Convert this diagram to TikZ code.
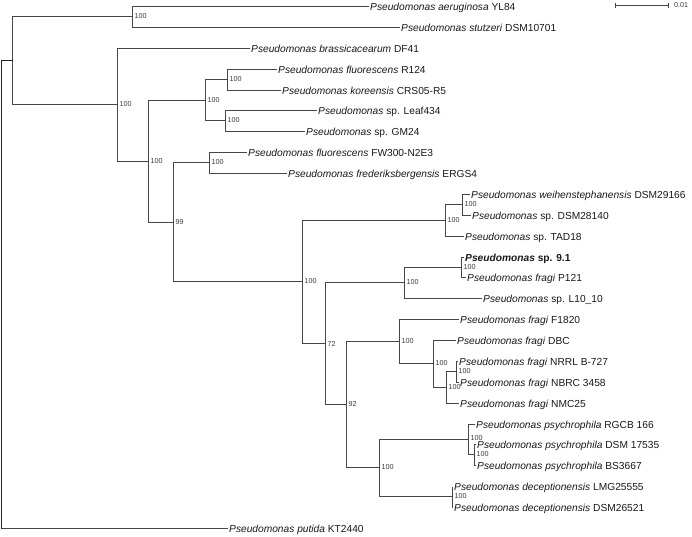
\documentclass[tikz,border=0pt]{standalone}
\usepackage{fontspec}
\setmainfont{Liberation Sans}
\definecolor{edgec}{RGB}{70,70,70}
\definecolor{rootc}{RGB}{35,35,35}
\definecolor{txtc}{RGB}{25,25,25}
\definecolor{bootc}{RGB}{60,60,60}
\begin{document}
\begin{tikzpicture}[x=0.75pt,y=-0.75pt,
  treeline/.style={draw=edgec,line width=0.75pt},
  rootline/.style={draw=rootc,line width=1pt},
  leaf/.style={anchor=west,inner xsep=1.1pt,inner ysep=0pt,text height=0.6em,text depth=0pt,
    font=\fontsize{7.65}{9}\selectfont,text=txtc},
  boot/.style={anchor=west,inner sep=1.3pt,font=\fontsize{5.4}{6}\selectfont,text=bootc},
  sclabel/.style={anchor=west,inner sep=1.5pt,font=\fontsize{5.4}{6}\selectfont,text=bootc}]
\useasboundingbox (0,0) rectangle (692,536);
% leaves
\node[leaf] (L1)  at (368.5,6.5)   {\textit{Pseudomonas aeruginosa} YL84};
\node[leaf] (L2)  at (399.5,27.5)  {\textit{Pseudomonas stutzeri} DSM10701};
\node[leaf] (L3)  at (249.5,48.5)  {\textit{Pseudomonas brassicacearum} DF41};
\node[leaf] (L4)  at (276.5,69.5)  {\textit{Pseudomonas fluorescens} R124};
\node[leaf] (L5)  at (280.5,90.5)  {\textit{Pseudomonas koreensis} CRS05-R5};
\node[leaf] (L6)  at (316.5,110.5) {\textit{Pseudomonas} sp. Leaf434};
\node[leaf] (L7)  at (304.5,131.5) {\textit{Pseudomonas} sp. GM24};
\node[leaf] (L8)  at (246.5,152.5) {\textit{Pseudomonas fluorescens} FW300-N2E3};
\node[leaf] (L9)  at (286.5,173.5) {\textit{Pseudomonas frederiksbergensis} ERGS4};
\node[leaf] (L10) at (469.5,194.5) {\textit{Pseudomonas weihenstephanensis} DSM29166};
\node[leaf] (L11) at (470.5,215.5) {\textit{Pseudomonas} sp. DSM28140};
\node[leaf] (L12) at (463.5,236.5) {\textit{Pseudomonas} sp. TAD18};
\node[leaf] (L13) at (463.5,257.5) {\bfseries\itshape Pseudomonas\upshape\ sp. 9.1};
\node[leaf] (L14) at (465.5,277.5) {\textit{Pseudomonas fragi} P121};
\node[leaf] (L15) at (481.5,298.5) {\textit{Pseudomonas} sp. L10\_10};
\node[leaf] (L16) at (458.5,319.5) {\textit{Pseudomonas fragi} F1820};
\node[leaf] (L17) at (455.5,340.5) {\textit{Pseudomonas fragi} DBC};
\node[leaf] (L18) at (457.5,361.5) {\textit{Pseudomonas fragi} NRRL B-727};
\node[leaf] (L19) at (458.5,382.5) {\textit{Pseudomonas fragi} NBRC 3458};
\node[leaf] (L20) at (458.5,403.5) {\textit{Pseudomonas fragi} NMC25};
\node[leaf] (L21) at (474.5,424.5) {\textit{Pseudomonas psychrophila} RGCB 166};
\node[leaf] (L22) at (475.5,444.5) {\textit{Pseudomonas psychrophila} DSM 17535};
\node[leaf] (L23) at (475.5,465.5) {\textit{Pseudomonas psychrophila} BS3667};
\node[leaf] (L24) at (452.5,486.5) {\textit{Pseudomonas deceptionensis} LMG25555};
\node[leaf] (L25) at (452.5,507.5) {\textit{Pseudomonas deceptionensis} DSM26521};
\node[leaf] (L26) at (227.5,528.5) {\textit{Pseudomonas putida} KT2440};
% internal nodes
\coordinate (Na) at (132.5,16.5);
\coordinate (Ne) at (227.5,79.5);
\coordinate (Nf) at (225.5,120.5);
\coordinate (Nd) at (205.5,100.5);
\coordinate (Ng) at (209.5,162.5);
\coordinate (Nk) at (462.5,204.5);
\coordinate (Nj) at (445.5,220.5);
\coordinate (Nn) at (461.5,267.5);
\coordinate (Nm) at (404.5,282.5);
\coordinate (Ns) at (456.5,371.5);
\coordinate (Nr) at (446.5,387.5);
\coordinate (Nq) at (433.5,363.5);
\coordinate (Np) at (399.5,341.5);
\coordinate (Nv) at (474.5,454.5);
\coordinate (Nu) at (468.5,439.5);
\coordinate (Nw) at (452.5,496.5);
\coordinate (Nt) at (379.5,467.5);
\coordinate (No) at (346.5,404.5);
\coordinate (Nl) at (325.5,343.5);
\coordinate (Ni) at (302.5,281.5);
\coordinate (Nh) at (173.5,222.5);
\coordinate (Nc) at (148.5,161.5);
\coordinate (Nb) at (117.5,104.5);
\coordinate (Ntop) at (12.5,60.5);
\coordinate (R) at (1.5,294.5);
% branches
\draw[treeline] (L1.west) -| (Na) |- (L2.west);
\draw[treeline] (L4.west) -| (Ne) |- (L5.west);
\draw[treeline] (L6.west) -| (Nf) |- (L7.west);
\draw[treeline] (Ne) -| (Nd) |- (Nf);
\draw[treeline] (L8.west) -| (Ng) |- (L9.west);
\draw[treeline] (L10.west) -| (Nk) |- (L11.west);
\draw[treeline] (Nk) -| (Nj) |- (L12.west);
\draw[treeline] (L13.west) -| (Nn) |- (L14.west);
\draw[treeline] (Nn) -| (Nm) |- (L15.west);
\draw[treeline] (L18.west) -| (Ns) |- (L19.west);
\draw[treeline] (Ns) -| (Nr) |- (L20.west);
\draw[treeline] (L17.west) -| (Nq) |- (Nr);
\draw[treeline] (L16.west) -| (Np) |- (Nq);
\draw[treeline] (L22.west) -| (Nv) |- (L23.west);
\draw[treeline] (L21.west) -| (Nu) |- (Nv);
\draw[treeline] (L24.west) -| (Nw) |- (L25.west);
\draw[treeline] (Nu) -| (Nt) |- (Nw);
\draw[treeline] (Np) -| (No) |- (Nt);
\draw[treeline] (Nm) -| (Nl) |- (No);
\draw[treeline] (Nj) -| (Ni) |- (Nl);
\draw[treeline] (Ng) -| (Nh) |- (Ni);
\draw[treeline] (Nd) -| (Nc) |- (Nh);
\draw[treeline] (L3.west) -| (Nb) |- (Nc);
\draw[treeline] (Na) -| (Ntop) |- (Nb);
\draw[treeline] (R) |- (L26.west);
\draw[rootline] (Ntop) -| (R) -- (R |- L26.west);
% bootstrap values
\node[boot] (bNa) at (Na) {100};
\node[boot] (bNb) at (Nb) {100};
\node[boot] (bNc) at (Nc) {100};
\node[boot] (bNd) at (Nd) {100};
\node[boot] (bNe) at (Ne) {100};
\node[boot] (bNf) at (Nf) {100};
\node[boot] (bNg) at (Ng) {100};
\node[boot] (bNh) at (Nh) {99};
\node[boot] (bNi) at (Ni) {100};
\node[boot] (bNj) at (Nj) {100};
\node[boot] (bNk) at (Nk) {100};
\node[boot] (bNl) at (Nl) {72};
\node[boot] (bNm) at (Nm) {100};
\node[boot] (bNn) at (Nn) {100};
\node[boot] (bNo) at (No) {92};
\node[boot] (bNp) at (Np) {100};
\node[boot] (bNq) at (Nq) {100};
\node[boot] (bNr) at (Nr) {100};
\node[boot] (bNs) at (Ns) {100};
\node[boot] (bNt) at (Nt) {100};
\node[boot,yshift=1.4pt] (bNu) at (Nu) {100};
\node[boot] (bNv) at (Nv) {100};
\node[boot] (bNw) at (Nw) {100};
% scale bar
\coordinate (sbL) at (615.5,5.5);
\coordinate (sbR) at (668.5,5.5);
\draw[treeline] (sbL) -- (sbR);
\draw[treeline] ([yshift=1.6pt]sbL) -- ([yshift=-1.6pt]sbL);
\draw[treeline] ([yshift=1.6pt]sbR) -- ([yshift=-1.6pt]sbR);
\node[sclabel,xshift=2.5pt] (sbT) at (sbR) {0.01};
\end{tikzpicture}
\end{document}
